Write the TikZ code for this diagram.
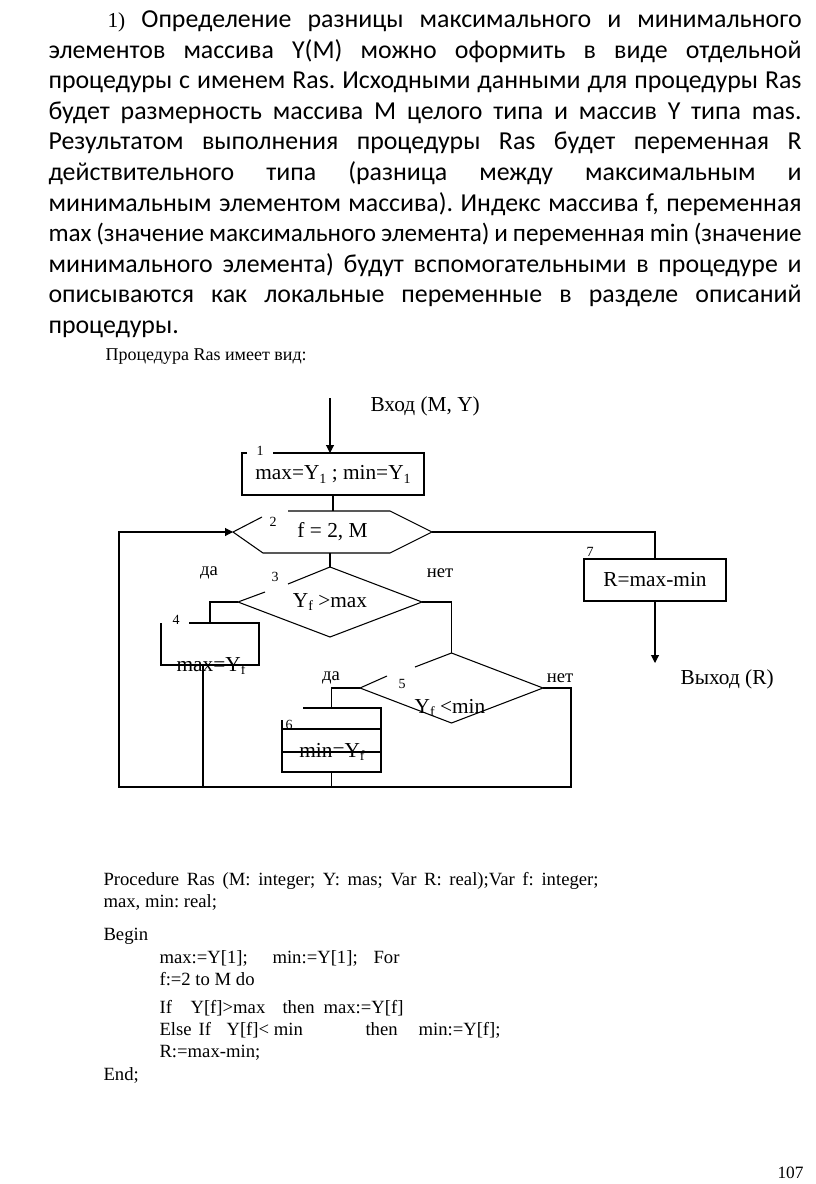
\documentclass[tikz,border=0pt]{standalone}
\usepackage{fontspec}
\setmainfont{Liberation Serif}
\newfontfamily\calfont{Carlito}
\usetikzlibrary{arrows.meta,calc}
\frenchspacing
\newcommand{\sbs}[1]{\raisebox{-0.4ex}{\fontsize{10.5}{11}\selectfont #1}}
\newcommand{\jline}[2]{\makebox[#1][s]{#2}}
\begin{document}
\begin{tikzpicture}[x=0.75pt,y=-0.75pt,
  line width=0.8pt,
  para/.style={anchor=base west,inner sep=0pt,font=\calfont\fontsize{19.4}{23}\selectfont},
  code/.style={anchor=base west,inner sep=0pt,font=\fontsize{14}{17}\selectfont},
  ftext/.style={inner sep=0pt,font=\fontsize{16}{19}\selectfont},
  lab/.style={inner sep=0pt,font=\fontsize{14}{17}\selectfont},
  num/.style={inner sep=0pt,font=\fontsize{10.5}{12}\selectfont},
  shp/.style={draw=none,inner sep=0pt,outer sep=0pt,font=\fontsize{16}{19}\selectfont},
  arr/.style={-{Triangle[length=6pt,width=6pt]}}
]
\useasboundingbox[fill=white] (0,0) rectangle (816,1184);

% ---------- paragraph ----------
\node[para] (p1) at (107,27.5) {\jline{520.5pt}{{\rmfamily\fontsize{16}{19}\selectfont 1)} Определение разницы максимального и минимального}};
\node[para] (p2) at (48,58.1) {\jline{564.75pt}{элементов массива Y(M) можно оформить в виде отдельной}};
\node[para] (p3) at (48,88.7) {\jline{564.75pt}{процедуры с именем Ras. Исходными данными для процедуры Ras}};
\node[para] (p4) at (48,119.3) {\jline{564.75pt}{будет размерность массива M целого типа и массив Y типа mas.}};
\node[para] (p5) at (48,149.9) {\jline{564.75pt}{Результатом выполнения процедуры Ras будет переменная R}};
\node[para] (p6) at (48,180.5) {\jline{564.75pt}{действительного типа (разница между максимальным и}};
\node[para] (p7) at (48,211.1) {\jline{564.75pt}{минимальным элементом массива). Индекс массива f,\ переменная}};
\node[para,font=\calfont\fontsize{18.9}{23}\selectfont] (p8) at (48,241.7) {\jline{564.75pt}{max (значение максимального элемента) и переменная min (значение}};
\node[para] (p9) at (48,272.3) {\jline{564.75pt}{минимального элемента) будут вспомогательными в процедуре и}};
\node[para] (p10) at (48,302.9) {\jline{564.75pt}{описываются как локальные переменные в разделе описаний}};
\node[para] (p11) at (48,333.5) {процедуры.};

\node[anchor=base west,inner sep=0pt,font=\fontsize{13.5}{16}\selectfont] (intro) at (105,360) {Процедура Ras имеет вид:};

% ---------- flowchart ----------
\node[anchor=base west,inner sep=0pt,font=\fontsize{16}{19}\selectfont] (vhod) at (370,411) {Вход (M, Y)};
\coordinate (inTop) at (330,398);

\node[shp,minimum width=136.5pt,minimum height=31.5pt] (b1) at (333,474) {max=Y\sbs{1} ; min=Y\sbs{1}};
\draw (247,453) -- (242,453) -- (242,495) -- (424,495) -- (424,453) -- (273,453);
\node[num] (n1) at (260,451) {1};

\node[shp,minimum width=149.25pt,minimum height=31.5pt] (h2) at (332.5,532) {f = 2, M};
\draw (262,517) -- (233,532) -- (263,553) -- (390,553) -- (432,532) -- (390,511) -- (288,511);
\node[num] (n2) at (273,522) {2};

\node[shp,minimum width=138pt,minimum height=52.5pt] (d3) at (330,602) {Y\sbs{f} >max};
\draw (265,592) -- (238,602) -- (330,637) -- (422,602) -- (330,567) -- (288,584);
\node[num] (n3) at (275,577) {3};

\node[shp,minimum width=73.5pt,minimum height=31.5pt] (b4) at (210,644) {};
\draw (189,623) -- (259,623) -- (259,665) -- (161,665) -- (161,623);
\node[num] (n4) at (176,620) {4};
\node[ftext,anchor=base] (t4) at (211,671) {max=Y\sbs{f}};

\node[shp,minimum width=137.25pt,minimum height=52.5pt] (d5) at (451.5,688) {};
\draw (387,676) -- (360,688) -- (451.5,723) -- (543,688) -- (451.5,653) -- (415,667);
\node[num] (n5) at (402,684) {5};
\node[ftext,anchor=base] (t5) at (450,713) {Y\sbs{f} <min};

\node[shp,minimum width=74.25pt,minimum height=48pt] (b6) at (331.5,740) {};
\draw (303,708) -- (381,708) -- (381,772) -- (282,772) -- (282,720);
\draw (282,729) -- (381,729);
\draw (282,752) -- (381,752);
\node[num] (n6) at (289,725) {6};
\node[ftext,anchor=base] (t6) at (332,757) {min=Y\sbs{f}};

\node[draw,inner sep=0pt,minimum width=106.5pt,minimum height=31.5pt,font=\fontsize{16}{19}\selectfont] (b7) at (655,580) {R=max-min};
\node[num] (n7) at (590,552) {7};
\coordinate (outEnd) at (655,663);
\node[anchor=base west,inner sep=0pt,font=\fontsize{16}{19}\selectfont] (vyhod) at (680,684) {Выход (R)};

\node[lab] (da1) at (209,573) {да};
\node[lab] (net1) at (440,573) {нет};
\node[lab] (da2) at (331,678) {да};
\node[lab] (net2) at (560,678) {нет};

\coordinate (loopbl) at (119,787);
\coordinate (loopbr) at (571,787);
\coordinate (b4out) at ([xshift=-5.25pt]b4.south);

% connectors
\draw[arr] (inTop) -- (inTop |- b1.north);
\draw (b1.south) -- (b1.south |- h2.north);
\draw (h2.south -| d3.north) -- (d3.north);
\draw (h2.east) -| (b7.north);
\draw[arr] (b7.south) -- (outEnd);
\draw (d3.west) -| (b4.north);
\draw (b4out) -- (b4out |- loopbl);
\draw (d3.east) -| (d5.north);
\draw (d5.west) -| (b6.north);
\draw (b6.south) -- (b6.south |- loopbl);
\draw[arr] (d5.east) -| (loopbr) -- (loopbl) |- (h2.west);

% ---------- code ----------
\node[code] (c1) at (103,885) {\jline{371.25pt}{Procedure Ras (M: integer; Y: mas; Var R: real);Var f: integer;}};
\node[code] (c2) at (103,907) {max, min: real;};
\node[code] (c3) at (103,940) {Begin};
\node[code] (c4a) at (159,963) {max:=Y[1];};
\node[code] (c4b) at (272,963) {min:=Y[1];};
\node[code] (c4c) at (373,963) {For};
\node[code] (c5) at (159,985) {f:=2 to M do};
\node[code] (c6a) at (159,1013) {If};
\node[code] (c6b) at (190,1013) {Y[f]>max};
\node[code] (c6c) at (282,1013) {then};
\node[code] (c6d) at (323,1013) {max:=Y[f]};
\node[code] (c7a) at (159,1035) {Else};
\node[code] (c7b) at (198,1035) {If};
\node[code] (c7c) at (226,1035) {Y[f]< min};
\node[code] (c7d) at (365,1035) {then};
\node[code] (c7e) at (418,1035) {min:=Y[f];};
\node[code] (c8) at (159,1057) {R:=max-min;};
\node[code] (c9) at (103,1080) {End;};

\node[anchor=base west,inner sep=0pt,font=\fontsize{13}{15}\selectfont] (pg) at (777,1178) {107};
\end{tikzpicture}
\end{document}
